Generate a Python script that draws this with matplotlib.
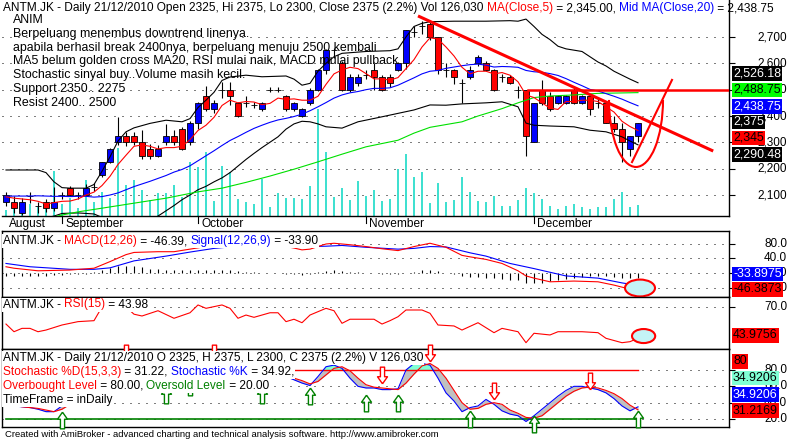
import matplotlib
matplotlib.use("Agg")
import matplotlib.pyplot as plt
from matplotlib.patches import Arc, Ellipse, Rectangle
from matplotlib.path import Path
import numpy as np

W, H = 790, 441
plt.rcParams['font.family'] = ['Liberation Sans', 'DejaVu Sans']

RED = '#FF0000'
BLUE = '#0000FF'
GREEN = '#008000'
FS = 8.6

# ---------------- data (one value per trading day) ----------------
opens = [2075, 2075, 2030, 2095, 2060, 2075, 2050, 2100, 2125, 2100,
         2100, 2130, 2175, 2225, 2300, 2325, 2325, 2300, 2275, 2250,
         2300, 2325, 2350, 2300, 2375, 2475, 2425, 2500, 2500, 2450,
         2450, 2440, 2425, 2500, 2500, 2475, 2425, 2400, 2450, 2500,
         2575, 2650, 2600, 2500, 2525, 2555, 2575, 2550, 2550, 2575,
         2600, 2720, 2740, 2750, 2700, 2575, 2575, 2525, 2550, 2600,
         2600, 2575, 2550, 2550, 2500, 2500, 2300, 2500, 2475, 2450,
         2450, 2500, 2450, 2475, 2450, 2450, 2375, 2350, 2275, 2325]
highs = [2110, 2095, 2090, 2110, 2075, 2085, 2130, 2110, 2135, 2110,
         2140, 2145, 2225, 2280, 2395, 2340, 2340, 2345, 2295, 2290,
         2370, 2345, 2360, 2380, 2455, 2515, 2460, 2530, 2530, 2455,
         2475, 2455, 2455, 2510, 2510, 2480, 2455, 2430, 2505, 2580,
         2655, 2660, 2610, 2560, 2560, 2575, 2600, 2555, 2560, 2605,
         2725, 2740, 2760, 2760, 2700, 2600, 2580, 2540, 2590, 2630,
         2610, 2580, 2560, 2555, 2515, 2500, 2450, 2535, 2490, 2480,
         2480, 2505, 2480, 2480, 2465, 2450, 2400, 2375, 2325, 2375]
lows = [2060, 2030, 2025, 2070, 2030, 2035, 2040, 2085, 2095, 2085,
        2095, 2115, 2170, 2220, 2290, 2285, 2290, 2235, 2235, 2245,
        2290, 2290, 2270, 2290, 2350, 2420, 2410, 2470, 2440, 2395,
        2435, 2430, 2420, 2490, 2490, 2420, 2420, 2395, 2440, 2495,
        2560, 2620, 2495, 2490, 2515, 2540, 2500, 2495, 2510, 2570,
        2580, 2700, 2710, 2690, 2560, 2550, 2520, 2450, 2540, 2590,
        2570, 2495, 2530, 2520, 2470, 2250, 2300, 2440, 2420, 2445,
        2445, 2445, 2445, 2405, 2430, 2375, 2340, 2225, 2250, 2300]
closes = [2100, 2050, 2075, 2095, 2060, 2050, 2075, 2100, 2100, 2100,
          2125, 2130, 2225, 2275, 2325, 2300, 2300, 2250, 2250, 2275,
          2325, 2300, 2275, 2375, 2450, 2425, 2450, 2500, 2475, 2400,
          2450, 2440, 2450, 2500, 2500, 2425, 2450, 2425, 2500, 2575,
          2650, 2650, 2500, 2550, 2550, 2555, 2550, 2500, 2525, 2600,
          2725, 2720, 2740, 2700, 2575, 2575, 2550, 2525, 2575, 2625,
          2575, 2500, 2550, 2525, 2500, 2325, 2450, 2450, 2425, 2475,
          2475, 2450, 2475, 2425, 2450, 2375, 2350, 2300, 2325, 2375]
volume_k = [69, 138, 115, 138, 103, 115, 516, 138, 206, 92,
            413, 160, 275, 206, 779, 355, 413, 298, 183, 264,
            264, 355, 218, 619, 562, 733, 172, 573, 504, 195,
            160, 138, 424, 103, 264, 206, 206, 195, 344, 1226,
            733, 218, 321, 183, 401, 229, 298, 172, 195, 539,
            711, 447, 504, 149, 378, 160, 183, 447, 275, 172,
            160, 229, 115, 115, 183, 321, 264, 195, 115, 80,
            115, 138, 103, 80, 103, 103, 195, 275, 103, 126]

ma5 = [2093, 2088, 2085, 2082, 2076, 2066, 2071, 2076, 2077, 2085,
       2100, 2111, 2136, 2171, 2216, 2251, 2285, 2290, 2285, 2275,
       2280, 2280, 2285, 2310, 2345, 2365, 2395, 2440, 2460, 2450,
       2455, 2453, 2443, 2448, 2468, 2463, 2465, 2460, 2460, 2475,
       2520, 2560, 2575, 2585, 2580, 2561, 2541, 2541, 2536, 2546,
       2580, 2614, 2662, 2697, 2692, 2662, 2628, 2585, 2560, 2570,
       2570, 2560, 2565, 2555, 2530, 2480, 2470, 2450, 2430, 2425,
       2455, 2455, 2460, 2460, 2455, 2435, 2415, 2380, 2360, 2345]
ma20 = [2095, 2096, 2096, 2096, 2097, 2096, 2095, 2095, 2094, 2095,
        2095, 2092, 2094, 2100, 2108, 2120, 2132, 2142, 2152, 2163,
        2174, 2187, 2197, 2211, 2230, 2249, 2268, 2288, 2307, 2322,
        2338, 2353, 2365, 2376, 2385, 2391, 2398, 2407, 2420, 2435,
        2451, 2468, 2480, 2488, 2493, 2500, 2505, 2505, 2507, 2517,
        2531, 2545, 2560, 2570, 2573, 2581, 2586, 2591, 2595, 2597,
        2593, 2586, 2588, 2587, 2585, 2573, 2568, 2566, 2561, 2554,
        2542, 2528, 2515, 2501, 2495, 2485, 2475, 2464, 2451, 2438.75]

bbu_idx = [0, 4, 5, 6, 7, 8, 10, 11, 12, 13, 14, 15, 16, 18, 20, 22, 23, 24, 25, 26,
           27, 28, 30, 32, 35, 36, 37, 38, 39, 40, 41, 42, 45, 48, 49, 50, 51, 52, 53, 56,
           60, 63, 64, 65, 66, 67, 68, 69, 70, 72, 73, 74, 75, 76, 77, 78, 79]
bbu_val = [2195, 2195, 2185, 2150, 2128, 2126, 2126, 2140, 2190, 2245, 2305, 2340, 2355, 2372, 2384, 2378, 2390, 2432, 2460, 2490,
           2535, 2548, 2555, 2549, 2552, 2540, 2517, 2524, 2570, 2600, 2625, 2638, 2645, 2648, 2655, 2700, 2740, 2752, 2758, 2760,
           2760, 2762, 2760, 2768, 2740, 2710, 2690, 2665, 2655, 2645, 2625, 2605, 2590, 2570, 2555, 2540, 2526.18]
bbl_idx = [0, 3, 6, 7, 9, 11, 12, 13, 14, 16, 18, 19, 20, 21, 22, 23, 24, 25, 26, 27,
           28, 29, 30, 31, 32, 34, 35, 36, 37, 38, 39, 40, 42, 44, 47, 49, 51, 53, 55, 57,
           60, 62, 64, 65, 66, 68, 71, 73, 75, 77, 78, 79]
bbl_val = [1990, 2000, 2020, 2030, 2032, 2028, 2015, 1995, 1975, 1978, 2005, 2020, 2040, 2060, 2082, 2100, 2120, 2133, 2150, 2165,
           2185, 2210, 2235, 2258, 2280, 2321, 2350, 2370, 2380, 2378, 2370, 2359, 2354, 2378, 2397, 2410, 2423, 2442, 2441, 2446,
           2450, 2454, 2435, 2373, 2365, 2362, 2359, 2346, 2340, 2321, 2305, 2290.48]
grn_idx = [5, 7, 9, 12, 16, 20, 24, 27, 30, 33, 36, 39, 42, 45, 49, 51, 53, 57, 59, 62, 64, 66, 68, 71, 74, 79]
grn_val = [2010, 2024, 2036, 2050, 2069, 2088, 2112, 2126, 2148, 2172, 2198, 2226, 2255, 2283, 2308, 2335, 2357, 2378, 2400, 2428,
           2450, 2470, 2476, 2480, 2486, 2488.75]

macd_idx = [0, 1, 4, 8, 11, 13, 15, 16, 19, 21, 23, 25, 27, 29, 31, 33, 35, 36, 37, 38,
            40, 41, 43, 45, 47, 49, 51, 53, 55, 57, 58, 60, 62, 64, 65, 66, 68, 71, 74, 76, 78, 79]
macd_val = [17, 13, 6, 8, 13, 31, 50, 56, 58, 58, 65, 72, 80, 82, 80, 78, 72, 68, 63, 65,
            79, 81, 77, 72, 66, 61, 72, 81, 70, 48, 44, 37, 26, 6, -8, -14, -24, -22, -24, -33, -44, -46.39]
sig_idx = [0, 3, 8, 11, 13, 16, 20, 23, 26, 29, 32, 35, 38, 40, 42, 45, 49, 51, 53, 55,
           58, 60, 63, 66, 68, 70, 74, 77, 79]
sig_val = [26, 17, 10, 10, 14, 33, 46, 57, 67, 73, 75, 74, 72, 73, 75, 70, 65, 67, 72, 71,
           55, 46, 26, 12, 2, -8, -14, -27, -33.9]
macd_hist = [-8, -8, -9, -9, -8, -7, -6, -5, -4, -3, -2,
             2, 8, 14, 18, 20, 19, 16,
             12, 10, 9, 8, 7, 7, 8,
             8, 9, 8, 7, 5, 3, 2, 1, 0, -1, -2, -4,
             -6, -4, 3, 6, 7, 6, 4, 2, 1, 0, -2, -3,
             -4, 1, 4, 7, 8, 5,
             1, -4, -8, -10, -12, -13, -15, -17, -18, -20,
             -28, -28, -26, -22, -18, -16, -14, -10, -9, -8, -9, -11, -13, -14, -12.5]

rsi_idx = [0, 1, 2, 3, 4, 5, 7, 9, 11, 12, 13, 14, 15, 16, 17, 19, 21, 23, 24, 25,
           27, 28, 29, 30, 31, 33, 34, 35, 36, 37, 38, 40, 41, 42, 43, 46, 47, 48, 49, 50,
           52, 53, 54, 56, 57, 59, 61, 62, 64, 65, 66, 68, 69, 72, 74, 75, 77, 78, 79]
rsi_val = [55.8, 49.4, 52.2, 52.2, 49.4, 50.8, 55, 57.8, 58.6, 70, 72, 75, 70, 64, 62.5, 66.9, 60.6, 65.2, 71.7, 68.9,
           71.7, 68.9, 60.6, 63.3, 61.4, 65.2, 65.2, 57.8, 59.8, 56.9, 63.3, 68.9, 66.9, 56.4, 59.8, 59.8, 55.8, 58.6, 61.9, 67.5,
           67.5, 64.75, 55, 54.2, 50.8, 56.9, 48.6, 52.2, 49.4, 40.25, 48.1, 46.7, 49.4, 49.4, 48.6, 43.9, 40.25, 41.1, 43.98]

stoch_k = [38, 36, 35, 34, 32, 29, 29, 36,
           45, 55, 62, 70, 80, 88, 92, 90, 85, 75, 65, 60, 62, 64, 62, 68, 80, 88, 90, 92, 88, 78, 72, 70, 72, 78, 76,
           72, 68, 64, 61, 72, 84, 86, 82, 70, 60, 58, 58, 56, 56, 57, 80, 88, 88, 86, 70,
           52, 42, 29, 34, 36, 44, 38, 30, 26, 24, 17, 24, 32, 40, 48, 55, 60, 60, 58, 56,
           52, 45, 36, 30, 34.92]
stoch_d = [37, 37, 35, 34, 33, 31, 29, 32,
           38, 45, 54, 62, 71, 79, 87, 90, 89, 83, 75, 67, 62, 62, 63, 65, 70, 79, 86, 90, 90, 86, 79, 73, 71, 73, 75,
           74, 70, 67, 63, 66, 74, 82, 84, 79, 70, 62, 59, 58, 57, 56, 64, 75, 85, 88, 82,
           70, 55, 40, 32, 33, 38, 40, 38, 31, 27, 22, 21, 24, 32, 40, 48, 54, 58, 59, 58,
           55, 51, 45, 37, 31.22]
buy_idx = [7, 20, 23, 32, 38, 45, 49, 58, 66, 79]
buy_lvl = [19, 49, 59, 49, 47.6, 40.2, 40.2, 20, 13.3, 20]
sell_idx = [15, 26, 47, 53, 61, 73]
sell_lvl = [101, 101, 73.3, 101, 54.3, 66]

month_names = ['August', 'September', 'October', 'November', 'December']
month_start = [0, 7, 24, 45, 66]

notes = ['ANIM',
         'Berpeluang menembus downtrend linenya.',
         'apabila berhasil break 2400nya, berpeluang menuju 2500 kembali',
         'MA5 belum golden cross MA20, RSI mulai naik, MACD mulai pullback',
         'Stochastic sinyal buy..Volume masih kecil.',
         'Support 2350.. 2275',
         'Resist 2400.. 2500']

# ---------------- figure ----------------
fig = plt.figure(figsize=(W / 100, H / 100), dpi=100, facecolor='white')
rend = fig.canvas.get_renderer()
XL = (-0.5, 90.375)


def px_axes(x0, y0, x1, y1):
    return fig.add_axes([x0 / W, 1 - y1 / H, (x1 - x0) / W, (y1 - y0) / H])


def dotted(ax, levels):
    for v in levels:
        ax.axhline(v, color='black', lw=0.72, ls=(0, (1, 7)), zorder=1)


def frame(ax, left=True, top=True):
    ax.set_xlim(*XL)
    ax.set_xticks([])
    for s in ax.spines.values():
        s.set_linewidth(1.0)
    ax.spines['left'].set_visible(left)
    ax.spines['top'].set_visible(top)
    ax.tick_params(axis='y', left=False, right=True, labelleft=False, labelright=False,
                   length=4, width=0.8, direction='out')


def text_w(s, size):
    t = fig.text(0, 0, s, fontsize=size)
    w = t.get_window_extent(rend).width
    t.remove()
    return w


def seg_text(x_px, y_px, parts, size=FS, bg=None):
    y = 1 - y_px / H
    xw = text_w('x', size)
    prefix = ''
    boxes = []
    for s, c in parts:
        off = text_w(prefix + 'x', size) - xw if prefix else 0
        t = fig.text((x_px + off) / W, y, s, color=c, fontsize=size, ha='left', va='center')
        boxes.append(t.get_window_extent(rend))
        prefix += s
    if bg:
        # one background strip behind the whole line (drawn under the texts)
        x0 = min(b.x0 for b in boxes) - 1
        x1 = max(b.x1 for b in boxes) + 1
        y0 = min(b.y0 for b in boxes) - 1
        y1 = max(b.y1 for b in boxes) + 1
        fig.add_artist(Rectangle((x0 / W, y0 / H), (x1 - x0) / W, (y1 - y0) / H,
                                 transform=fig.transFigure, fc=bg, ec='none', zorder=2))


def axis_labels(ax, levels, fmt):
    for v in levels:
        ax.text((787 - 2) / 727, v, fmt(v), transform=ax.get_yaxis_transform(),
                ha='right', va='center', fontsize=8.5, clip_on=False)


def value_box(y_px, s, bg, fg):
    fig.text(733 / W, 1 - y_px / H, s, color=fg, fontsize=8.9, ha='left', va='center',
             bbox=dict(boxstyle='square,pad=0.1', fc=bg, ec='none'))


x = np.arange(len(closes))
o, hi, lo, c = (np.array(a, dtype=float) for a in (opens, highs, lows, closes))

# ---- volume (behind the price pane)
axv = px_axes(2, 0, 729, 216)
axv.bar(x, volume_k, width=0.3, color='#40E0D0', zorder=1)
axv.set_xlim(*XL)
axv.set_ylim(0, 216 * 11.46)
axv.axis('off')

# ---- price pane
ax = px_axes(2, 0, 729, 216)
ax.patch.set_alpha(0)
frame(ax, left=False, top=False)
ax.set_ylim(2020.3, 2840.5)
price_levels = [2100, 2200, 2300, 2400, 2500, 2600, 2700]
ax.set_yticks(price_levels)
dotted(ax, price_levels)

ax.vlines(x, lo, hi, color='black', lw=0.8, zorder=2)
body_col = np.where(c >= o, BLUE, RED)
ax.bar(x, np.abs(c - o), bottom=np.minimum(o, c), width=0.7, color=body_col,
       edgecolor='black', linewidth=0.6, zorder=2.5)

ax.plot(bbu_idx, bbu_val, color='black', lw=0.8, zorder=3)
ax.plot(bbl_idx, bbl_val, color='black', lw=0.8, zorder=3)
ax.plot(grn_idx, grn_val, color='#00E000', lw=0.8, zorder=3)
ax.plot(x, ma20, color=BLUE, lw=0.8, zorder=3)
ax.plot(x, ma5, color=RED, lw=0.8, zorder=3)

# hand drawn annotations
ax.plot([51.5, 88.4], [2780, 2267], color=RED, lw=2.2, zorder=4, solid_capstyle='butt')
ax.plot([65.25, 90.375], [2499, 2499], color=RED, lw=1.8, zorder=4)
ax.add_patch(Arc((78.75, 2461), 6.75, 509, theta1=180, theta2=360, color=RED, lw=1.5, zorder=4))
ax.plot([78.25, 83.25], [2225, 2537], color=RED, lw=1.5, zorder=4)

axis_labels(ax, price_levels, lambda v: f'{v:,.0f}')

# month axis
for name, i in zip(month_names, month_start):
    if i > 0:
        ax.plot([i, i], [0, -0.032], transform=ax.get_xaxis_transform(), color='black',
                lw=0.8, clip_on=False)
    ax.text(i + 0.4, -0.038, name, transform=ax.get_xaxis_transform(), fontsize=FS,
            ha='left', va='center')

# ---- MACD pane
axm = px_axes(2, 231, 729, 297)
frame(axm)
axm.set_ylim(-65.4, 114.4)
macd_levels = [-40, 0, 40, 80]
axm.set_yticks(macd_levels)
dotted(axm, macd_levels)
axm.vlines(x, 0, macd_hist, color='black', lw=0.8, zorder=2)
axm.plot(sig_idx, sig_val, color=BLUE, lw=0.8, zorder=3)
axm.plot(macd_idx, macd_val, color=RED, lw=0.8, zorder=3)
axm.add_patch(Ellipse((79.25, -40.9), 3.75, 46, fc='#C4F4F6', ec=RED, lw=1.5, zorder=4))
axis_labels(axm, macd_levels, lambda v: f'{v:.1f}')

# ---- RSI pane
axr = px_axes(2, 297, 729, 349)
frame(axr)
axr.set_ylim(35, 78.33)
axr.set_yticks([70])
dotted(axr, [70])
axr.plot(rsi_idx, rsi_val, color=RED, lw=0.8, zorder=3)
axr.add_patch(Ellipse((79.7, 45.8), 2.9, 11.7, fc='#C4F4F6', ec=RED, lw=1.5, zorder=4))
axis_labels(axr, [70], lambda v: f'{v:.1f}')

# ---- Stochastic pane
axs = px_axes(2, 349, 729, 427)
frame(axs)
axs.set_ylim(10.23, 105.7)
st_levels = [20, 40, 60, 80]
axs.set_yticks(st_levels)
dotted(axs, st_levels)
k = np.array(stoch_k, dtype=float)
d = np.array(stoch_d, dtype=float)
axs.fill_between(x, k, d, color='#C0C0C0', lw=0, zorder=2)
axs.fill_between(x, 80, k, where=k > 80, interpolate=True, color='#7FFFD4', lw=0, zorder=2)
axs.plot(x, [80] * len(x), color=RED, lw=1.0, zorder=3)
axs.plot(x, [20] * len(x), color=GREEN, lw=1.2, zorder=3)
axs.plot(x, k, color=BLUE, lw=0.8, zorder=3)
axs.plot(x, d, color=RED, lw=0.8, zorder=3)

up_arrow = Path([(0, 1), (0.6, 0.15), (0.25, 0.15), (0.25, -1), (-0.25, -1),
                 (-0.25, 0.15), (-0.6, 0.15), (0, 1)])
down_arrow = Path([(px, -py) for px, py in up_arrow.vertices])
axs.plot(buy_idx, buy_lvl, ls='none', marker=up_arrow, ms=12, mfc='white', mec=GREEN,
         mew=1.0, clip_on=False, zorder=5)
axs.plot(sell_idx, sell_lvl, ls='none', marker=down_arrow, ms=12, mfc='white', mec=RED,
         mew=1.0, clip_on=False, zorder=5)
axis_labels(axs, st_levels, lambda v: f'{v:.1f}')

# ---------------- titles and notes ----------------
seg_text(3, 8.5, [('ANTM.JK - Daily 21/12/2010 Open 2325, Hi 2375, Lo 2300, Close 2375 (2.2%) Vol 126,030 ', 'black'),
                  ('MA(Close,5)', RED), (' = 2,345.00, ', 'black'),
                  ('Mid MA(Close,20)', BLUE), (' = 2,438.75', 'black')], size=8.55)
for j, line in enumerate(notes):
    fig.text(13 / W, 1 - (20 + 13.8 * j) / H, line, fontsize=8.9, ha='left', va='center')

seg_text(3, 241, [('ANTM.JK - ', 'black'), ('MACD(12,26)', RED), (' = -46.39, ', 'black'),
                  ('Signal(12,26,9)', BLUE), (' = -33.90', 'black')], bg='white')
seg_text(3, 304.5, [('ANTM.JK - ', 'black'), ('RSI(15)', RED), (' = 43.98', 'black')], bg='white')
seg_text(3, 358, [('ANTM.JK - Daily 21/12/2010 O 2325, H 2375, L 2300, C 2375 (2.2%) V 126,030', 'black')], bg='white')
seg_text(3, 372, [('Stochastic %D(15,3,3)', RED), (' = 31.22, ', 'black'),
                  ('Stochastic %K', BLUE), (' = 34.92,', 'black')], bg='white')
seg_text(3, 386, [('Overbought Level', RED), (' = 80.00, ', 'black'),
                  ('Oversold Level', GREEN), (' = 20.00', 'black')], bg='white')
seg_text(3, 399.5, [('TimeFrame = inDaily', 'black')], bg='white')

# value boxes on the right axis
value_box(73.5, '2,526.18', 'black', 'white')
value_box(90, '2,488.75', '#00FF00', 'black')
value_box(106.5, '2,438.75', BLUE, 'white')
value_box(122, '2,375', 'black', 'white')
value_box(138, '2,345', RED, 'black')
value_box(154.5, '2,290.48', 'black', 'white')
value_box(274, '-33.8975', BLUE, 'white')
value_box(289.5, '-46.3873', RED, 'black')
value_box(335.5, '43.9756', RED, 'black')
value_box(361.5, '80', RED, 'black')
value_box(378, '34.9206', '#7FFFD4', 'black')
value_box(394.5, '34.9206', BLUE, 'white')
value_box(410.5, '31.2169', RED, 'black')

fig.text(5 / W, 1 - 434.5 / H,
         'Created with AmiBroker - advanced charting and technical analysis software. http://www.amibroker.com',
         fontsize=6.8, ha='left', va='center')

fig.savefig('out.png', dpi=100, facecolor='white')
